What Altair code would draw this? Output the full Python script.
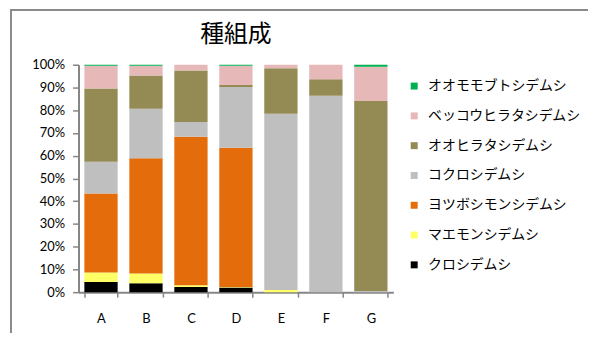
import altair as alt
import pandas as pd

categories = ["A", "B", "C", "D", "E", "F", "G"]

# species in stacking order (bottom -> top)
species = [
    "クロシデムシ",
    "マエモンシデムシ",
    "ヨツボシモンシデムシ",
    "コクロシデムシ",
    "オオヒラタシデムシ",
    "ベッコウヒラタシデムシ",
    "オオモモブトシデムシ",
]
colors = ["#000000", "#FFFF66", "#E46C0A", "#BFBFBF", "#948A54", "#E6B9B8", "#00B050"]

kuro = [4.5, 3.9, 2.3, 2.0, 0.0, 0.0, 0.0]
maemon = [4.1, 4.3, 0.7, 0.3, 1.0, 0.0, 0.0]
yotsuboshi = [34.8, 50.7, 65.3, 61.2, 0.0, 0.0, 0.0]
kokuro = [13.9, 21.7, 6.5, 26.7, 77.4, 86.4, 0.5]
ohirata = [32.2, 14.7, 22.7, 0.9, 20.1, 7.2, 83.6]
bekkou = [10.1, 4.3, 2.5, 8.5, 1.5, 6.4, 15.0]
omomobuto = [0.4, 0.4, 0.0, 0.4, 0.0, 0.0, 0.9]

series = [kuro, maemon, yotsuboshi, kokuro, ohirata, bekkou, omomobuto]

rows = []
for i, (sp, vals) in enumerate(zip(species, series)):
    for c, v in zip(categories, vals):
        rows.append({"cat": c, "species": sp, "value": v, "idx": i})
df = pd.DataFrame(rows)

legend_domain = species[::-1]
legend_range = colors[::-1]

GRAY = "#868686"

bars = alt.Chart(df).mark_bar().encode(
    x=alt.X(
        "cat:N",
        sort=categories,
        scale=alt.Scale(paddingInner=0.26, paddingOuter=0.13),
        axis=alt.Axis(
            title=None,
            labelAngle=0,
            tickBand="extent",
            tickSize=5,
            tickWidth=1.5,
            tickColor=GRAY,
            domainColor=GRAY,
            domainWidth=2,
            labelPadding=16,
            labelFont="Lato",
            labelFontSize=13,
            labelColor="#000000",
        ),
    ),
    y=alt.Y(
        "value:Q",
        stack="normalize",
        scale=alt.Scale(domain=[0, 1], nice=False),
        axis=alt.Axis(
            title=None,
            format="%",
            values=[i / 10 for i in range(11)],
            grid=False,
            tickSize=6,
            tickWidth=1.5,
            tickColor=GRAY,
            domainColor=GRAY,
            domainWidth=2,
            labelPadding=8,
            labelFont="Lato",
            labelFontSize=13,
            labelColor="#000000",
        ),
    ),
    color=alt.Color(
        "species:N",
        scale=alt.Scale(domain=legend_domain, range=legend_range),
        legend=alt.Legend(
            title=None,
            orient="none",
            legendX=331,
            legendY=14.5,
            padding=0,
            symbolType="square",
            symbolSize=49,
            symbolStrokeWidth=0,
            labelFont="Noto Sans CJK JP",
            labelFontSize=14,
            labelColor="#000000",
            labelOffset=7,
            rowPadding=16,
            labelLimit=300,
        ),
    ),
    order=alt.Order("idx:Q", sort="ascending"),
)

title_df = pd.DataFrame({"t": ["種組成"]})
title = alt.Chart(title_df).mark_text(
    font="Noto Sans CJK JP", fontSize=24, baseline="middle", align="center", color="#000000"
).encode(text="t:N", x=alt.value(158.5), y=alt.value(-30))

frame_df = pd.DataFrame({"a": [0]})
left_border = alt.Chart(frame_df).mark_rule(color="#8a8a8a", strokeWidth=2).encode(
    x=alt.value(-68), y=alt.value(-56), y2=alt.value(270)
)
right_border = alt.Chart(frame_df).mark_rule(color="#8a8a8a", strokeWidth=2).encode(
    x=alt.value(514), y=alt.value(-56), y2=alt.value(270)
)
top_border = alt.Chart(frame_df).mark_rule(color="#8a8a8a", strokeWidth=2).encode(
    x=alt.value(-69), x2=alt.value(515), y=alt.value(-55)
)

chart = alt.layer(bars, title, left_border, right_border, top_border).properties(
    width=317,
    height=229,
    padding={"left": 71, "top": 56, "right": 196, "bottom": 41},
    autosize=alt.AutoSizeParams(type="none"),
).configure_view(stroke=None)

chart.save("out.html", embed_options={"renderer": "svg", "actions": False})
